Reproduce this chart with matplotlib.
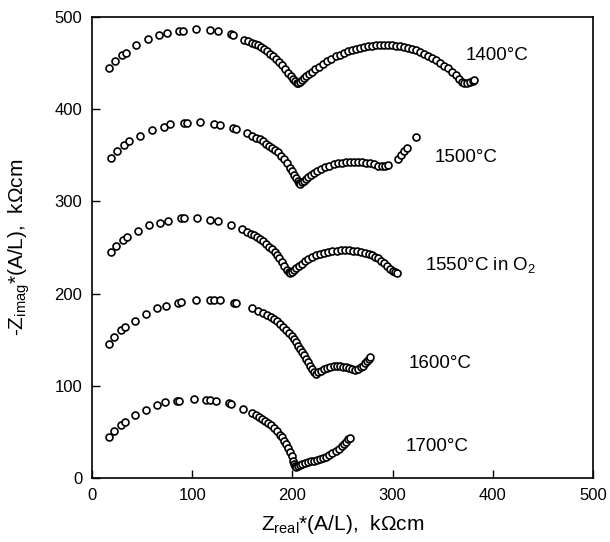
import matplotlib
matplotlib.use("Agg")
import matplotlib.pyplot as plt

plt.rcParams['font.family'] = ['Liberation Sans', 'DejaVu Sans']
plt.rcParams['mathtext.default'] = 'regular'

# Impedance spectra: (Z_real, -Z_imag) in kOhm cm
z1400_x = [16.7, 22.5, 30.3, 33.4, 43.5, 55.6, 66.4, 74.6, 86.6, 91, 104, 118, 125.5, 139, 141, 152,
           156, 160, 163, 166, 169, 172, 175, 178, 181, 184, 187, 190, 193, 196, 199, 201, 203, 205, 206,
           208, 210, 212, 214, 217, 220, 223, 227, 231, 235, 239, 243, 247, 251, 255, 259, 263, 267, 271,
           275, 279, 283, 287, 291, 295, 299, 303, 307, 311, 315, 319, 323, 327, 331, 335, 339, 343, 347,
           351, 355, 359, 363, 366, 369, 371, 374, 377, 380, 381]
z1400_y = [445, 452, 459, 461, 469, 476, 480, 482, 485, 485, 487, 486, 485, 481, 480, 475,
           473.5, 472, 470.5, 469, 467, 465, 462.5, 460, 457.5, 454.5, 451, 447.5, 443.5, 439.5, 435.5, 433, 430.5, 428.5, 428,
           429.5, 431.5, 433.5, 435.5, 438, 440.5, 443, 446, 449, 452, 454.5, 457, 459, 461, 462.5, 464, 465.5, 466.5, 467.5,
           468, 468.5, 469, 469, 469, 469, 469, 468.5, 468, 467, 466, 465, 463.5, 462, 460, 458, 455.5, 453, 450,
           447, 444, 440.5, 436.5, 433, 429.5, 428, 428, 429, 430, 431]

z1500_x = [18.6, 25, 32, 37, 47.4, 59.4, 71.5, 77.7, 91.3, 95, 108, 122, 128, 141, 144, 155,
           160, 164, 168, 171, 174, 177, 180, 183, 186, 189, 192, 195, 198, 200, 202, 204, 206, 207, 208,
           210, 212, 214, 216, 219, 222, 225, 229, 233, 237, 241, 245, 249, 253, 257, 261, 265, 269, 273,
           277, 281, 285, 289, 292, 295, 305, 308, 311, 314, 323]
z1500_y = [347, 354, 361, 365, 371, 377, 381, 384, 385, 385, 386, 384, 383, 379, 378, 374,
           371, 369, 367, 365, 362.5, 360, 358, 355.5, 353, 349.5, 346, 341.5, 336.5, 333, 329, 325, 321.5, 319.5, 319,
           320.5, 322.5, 324.5, 326.5, 329, 331, 333, 335.5, 337, 338.5, 340, 341, 342, 342.5, 343, 343, 343, 342.5, 342,
           341, 340, 338.5, 338, 338.5, 339, 346, 350, 354, 358, 370]

z1550_x = [18.6, 24, 31, 35, 45.5, 56.3, 68, 75.8, 89, 92, 105, 118, 125.5, 139, 150,
           155, 158.5, 162, 165, 168, 171, 174, 177, 180, 183, 185, 187, 189.5, 192, 194.5, 196.5, 198,
           200, 202, 204, 207, 210, 213, 216, 220, 224, 228, 232, 236, 240, 244, 248, 252, 256, 260, 264,
           268, 272, 276, 279, 282, 285, 288, 291, 294, 297, 300, 302, 304]
z1550_y = [245, 252, 258, 261, 268, 274, 277, 279, 282, 282, 282, 280, 279, 274, 270,
           267, 265, 263, 261, 259, 257, 254, 251, 248, 245, 241.5, 238, 234, 230, 226, 223, 222,
           223.5, 225.5, 227.5, 230, 232.5, 235, 237, 239.5, 241.5, 243, 244, 245, 246, 246.5, 247, 247, 247, 246.5, 246,
           245, 244, 243, 241.5, 240, 238, 235.5, 233, 230, 227, 224.5, 223, 222.5]

z1600_x = [16.7, 22, 29, 33, 42.7, 53.6, 65, 74, 86, 89, 104, 118, 122, 128, 142, 144, 160, 166, 171,
           175, 179, 182, 185, 188, 191, 194, 197, 200, 202, 204, 206, 208, 210, 212, 214, 216, 218, 220, 222, 223.5,
           226, 229, 232, 235, 238, 241, 244, 247, 250, 253, 256, 259, 262, 265, 268, 270, 272, 274, 276, 277]
z1600_y = [145, 153, 160, 164, 170, 178, 184, 186.5, 190, 191, 193, 193, 193, 192.5, 190, 189.5, 184, 181.5, 179,
           177, 175, 172.5, 170, 167, 164, 161, 157.5, 154, 150.5, 147, 143.5, 140, 136.5, 133, 129.5, 125.5, 122, 118, 114.5, 113,
           114.5, 116.5, 118, 119.5, 120.5, 121, 121, 121, 120.5, 120, 119, 118, 117.5, 118, 120, 122, 124.5, 127, 129.5, 131]

z1700_x = [16.7, 22, 29, 33, 42.7, 53.6, 65, 73, 85, 87, 102, 114, 118, 124, 137, 139, 151, 160,
           164, 167, 170, 173, 176, 179, 182, 185, 188, 190, 192, 194, 196, 198, 199.5, 201, 202, 203, 204,
           206, 208, 210, 213, 216, 219, 222, 225, 228, 231, 234, 237, 240, 243, 246, 249, 251, 253, 255, 257]
z1700_y = [44, 51, 57, 61, 68, 74, 79, 82, 84, 84, 86, 85, 85, 84, 81, 80.5, 75, 70,
           68, 66, 64, 62, 59.5, 57, 54, 51, 47, 44, 40.5, 37, 33, 28, 23.5, 19, 15.5, 13, 12.5,
           13.5, 14.5, 15, 16, 17, 18, 19, 19.5, 20.5, 21.5, 23, 25, 27, 29.5, 32, 34.5, 37, 39.5, 42, 43]

series = [(z1400_x, z1400_y), (z1500_x, z1500_y), (z1550_x, z1550_y),
          (z1600_x, z1600_y), (z1700_x, z1700_y)]
labels = ['1400°C', '1500°C', '1550°C in O$_2$', '1600°C', '1700°C']
label_x = [373, 342, 332, 316, 313]
label_y = [458, 347, 231, 124, 34]

fig = plt.figure(figsize=(6.1, 5.42), dpi=100)
ax = fig.add_axes([0.151, 0.118, 0.821, 0.851])

for xs, ys in series:
    ax.plot(xs, ys, linestyle='none', marker='o', markersize=5,
            markerfacecolor='white', markeredgecolor='black', markeredgewidth=1.2)

for lab, lx, ly in zip(labels, label_x, label_y):
    ax.text(lx, ly, lab, fontsize=13.5, va='center', ha='left')

ax.set_xlim(0, 500)
ax.set_ylim(0, 500)
ax.set_xticks([0, 100, 200, 300, 400, 500])
ax.set_yticks([0, 100, 200, 300, 400, 500])
ax.tick_params(direction='in', length=6, width=1, labelsize=12, pad=7)
ax.tick_params(top=False, right=False)
for s in ax.spines.values():
    s.set_linewidth(1.2)

ax.set_xlabel('Z$_{real}$*(A/L),  kΩcm', fontsize=15)
ax.set_ylabel('-Z$_{imag}$*(A/L),  kΩcm', fontsize=15)
ax.xaxis.set_label_coords(0.5, -0.075)
ax.yaxis.set_label_coords(-0.12, 0.5)

fig.savefig('out.png', dpi=100)
